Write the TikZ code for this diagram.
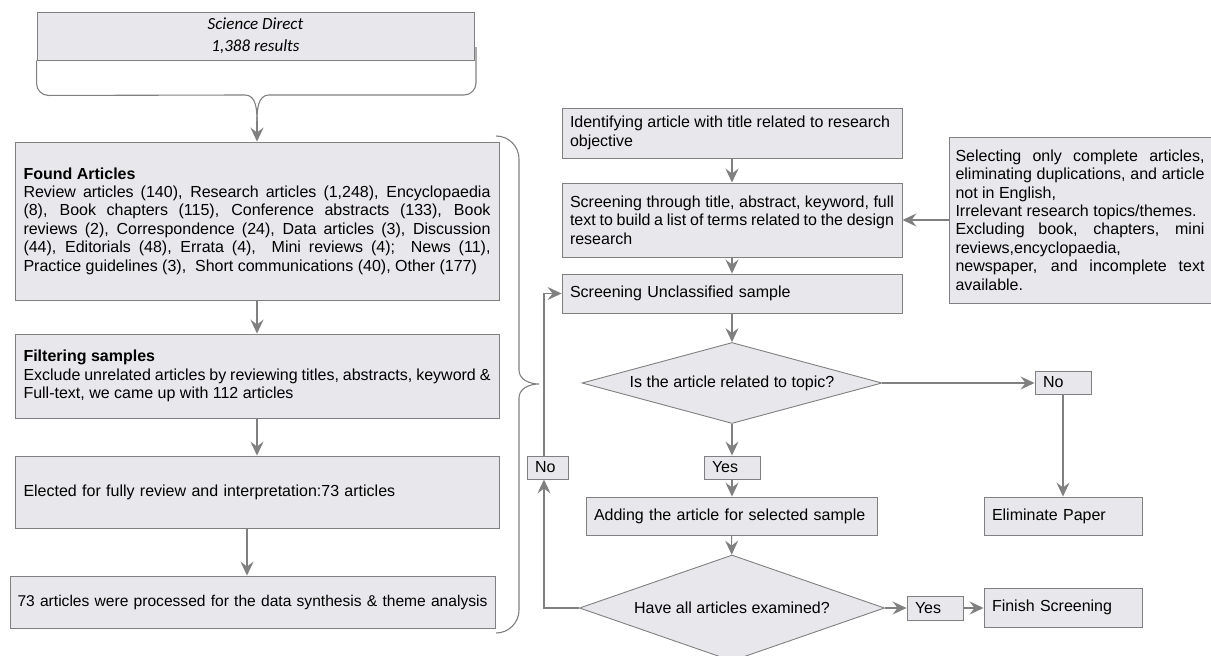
\documentclass[tikz,border=0pt]{standalone}
\usepackage{fontspec}
\setmainfont{Liberation Sans}
\newfontfamily\sdfont{Carlito}
\usetikzlibrary{arrows.meta,shapes.geometric}
\definecolor{boxfill}{RGB}{232,232,236}
\definecolor{linegray}{RGB}{128,128,128}

\begin{document}
\begin{tikzpicture}[x=1pt,y=-1pt,
    font=\fontsize{16}{18.4}\selectfont,
    box/.style={draw=linegray,fill=boxfill,line width=0.9pt,inner ysep=0pt,inner xsep=8pt},
    dec/.style={box,shape=diamond,inner sep=0pt},
    tag/.style={box,minimum height=23pt,text width=40pt,align=left},
    ln/.style={draw=linegray,line width=1.1pt},
    arr/.style={ln,-{Stealth[length=14pt,width=13pt,inset=5pt]}}]
  \useasboundingbox (0,0) rectangle (1211,656);

  \node[box,minimum width=437pt,minimum height=48pt,align=center,
        font=\sdfont\itshape\fontsize{17}{22}\selectfont] (sd) at (255.5,36) {Science Direct\\1,388 results};
  \node[box,minimum height=158pt,text width=467pt,inner xsep=8.5pt,align=justify] (found) at (257,221)
    {\textbf{Found Articles}\\
     Review articles (140), Research articles (1,248), Encyclopaedia\linebreak
     (8), Book chapters (115), Conference abstracts (133), Book\linebreak
     reviews (2), Correspondence (24), Data articles (3), Discussion\linebreak
     (44), Editorials (48), Errata (4),\ \ Mini reviews (4);\ \ News (11),\linebreak
     Practice guidelines (3),\ \ Short communications (40), Other (177)};
  \node[box,minimum height=84pt,text width=467pt,inner xsep=8.5pt,align=justify] (filter) at (257,376)
    {\textbf{Filtering samples}\\
     Exclude unrelated articles by reviewing titles, abstracts, keyword \&\linebreak
     Full-text, we came up with 112 articles};
  \node[box,minimum height=72pt,text width=467pt,inner xsep=8.5pt,align=left] (elect) at (257,492)
    {Elected for fully review and interpretation:73 articles};
  \node[box,minimum height=52pt,text width=485pt,inner xsep=0pt,align=center,
        font=\fontsize{15.6}{18}\selectfont] (synth) at (252.5,602)
    {73 articles were processed for the data synthesis \& theme analysis};

  \node[box,minimum height=50pt,text width=324pt,align=justify] (ident) at (732,133)
    {Identifying article with title related to research\\objective};
  \node[box,minimum height=74pt,text width=324pt,align=justify] (scrn) at (732,220)
    {Screening through title, abstract, keyword, full\linebreak
     text to build a list of terms related to the design\\research};
  \node[box,minimum height=39pt,text width=324pt,align=left] (uncl) at (732,293.5)
    {Screening Unclassified sample};
  \node[box,minimum height=166pt,text width=249pt,inner xsep=6.5pt,align=justify] (excl) at (1080,220)
    {Selecting only complete articles,\linebreak
     eliminating duplications, and article\linebreak
     not in English,\\
     Irrelevant research topics/themes.\\
     Excluding book, chapters, mini\linebreak
     reviews,encyclopaedia,\\
     newspaper, and incomplete text\linebreak
     available.};

  \node[dec,minimum width=300pt,minimum height=81pt,aspect=3.7] (dec1) at (732,383)
    {Is the article related to topic?};
  \node[tag] (noR) at (1063,382.5) {No};
  \node[tag] (yes1) at (732,467.5) {Yes};
  \node[box,minimum height=38pt,text width=275pt,align=left] (add) at (731.5,516)
    {Adding the article for selected sample};
  \node[box,minimum height=38pt,text width=142pt,align=left] (elim) at (1063,516)
    {Eliminate Paper};
  \node[dec,minimum width=305pt,minimum height=106pt,aspect=2.9] (dec2) at (732,608)
    {Have all articles examined?};
  \node[tag,minimum height=24pt] (yes2) at (935,608) {Yes};
  \node[box,minimum height=39pt,text width=142pt,align=left] (fin) at (1063,607.5)
    {Finish Screening};
  \node[tag,text width=25pt] (noL) at (547.5,467.5) {No};

  \coordinate (sdtip) at (257,121);
  \coordinate (lx) at (544,0);

  \draw[ln] (sd.south west) -- ++(0,23) to[out=-90,in=180] ++(12,12) -- (245,95)
    to[out=0,in=90] (sdtip);
  \draw[ln] (476,47) -- (476,83) to[out=-90,in=0] (464,95) -- (269,95)
    to[out=180,in=90] (sdtip);
  \draw[arr] (sdtip) -- (found.north);

  \draw[ln] (496,136) to[out=0,in=90] (519,159) -- (519,370) to[out=-90,in=180] (539,384)
    to[out=180,in=90] (519,398) -- (519,610) to[out=-90,in=0] (496,633);

  \foreach \a/\b in {found/filter,filter/elect,ident/scrn,scrn/uncl,uncl/dec1,dec1/yes1,add/dec2,noR/elim,excl/scrn}
    \draw[arr] (\a) -- (\b);
  \draw[arr] ([xshift=-10pt]elect.south) -- ([xshift=-10pt]elect.south |- synth.north);
  \draw[arr] (yes1.south) -- (yes1.south |- add.north);
  \draw[arr] (dec1.east) -- (dec1.east -| noR.west);
  \draw[arr] (dec2.east) -- (yes2.west);
  \draw[arr] (yes2.east) -- (yes2.east -| fin.west);
  \draw[arr] (dec2.west) -- (dec2.west -| lx) -- (noL.south -| lx);
  \draw[arr] (noL.north -| lx) |- (uncl.west);
\end{tikzpicture}
\end{document}
